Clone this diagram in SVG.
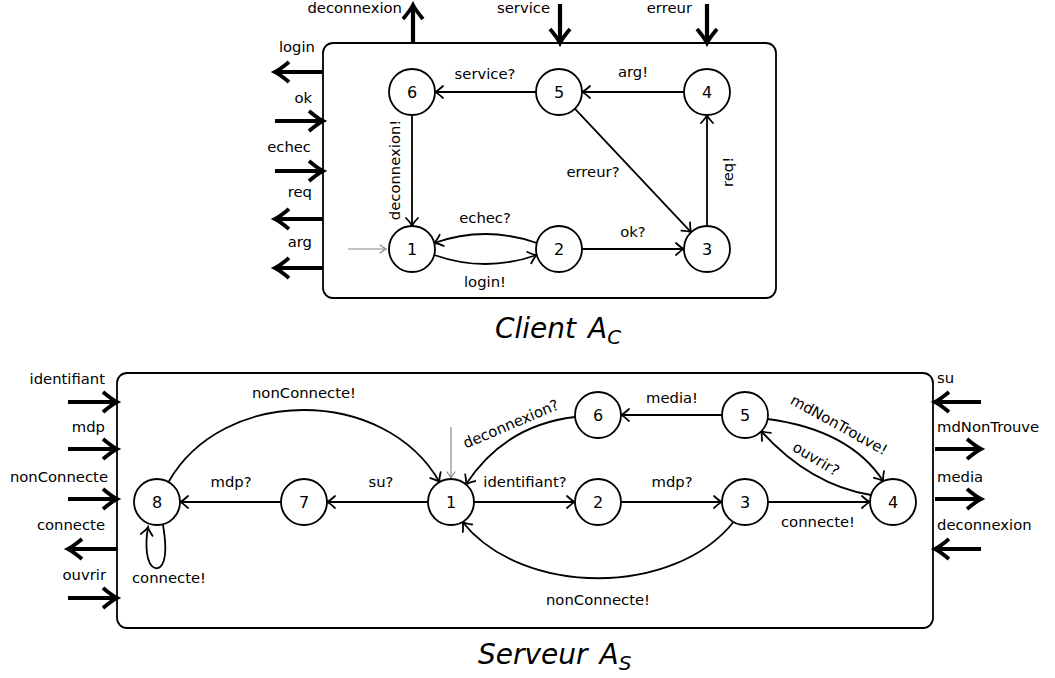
<svg xmlns="http://www.w3.org/2000/svg" width="1055" height="678" viewBox="0 0 1055 678">
<style>
text{font-family:"DejaVu Sans","Liberation Sans",sans-serif;font-size:14.8px;fill:#000}
.m{text-anchor:middle}
.e{text-anchor:end}
.n{font-size:16px;text-anchor:middle}
.t{font-size:28px;font-style:italic}
.st{fill:#fff;stroke:#000;stroke-width:1.8}
.box{fill:none;stroke:#000;stroke-width:1.8}
.ed{fill:none;stroke:#000;stroke-width:1.8;marker-end:url(#a)}
.in{fill:none;stroke:#888;stroke-width:1.2;marker-end:url(#g)}
.th{fill:none;stroke:#000;stroke-width:4.2;marker-end:url(#T)}
</style>
<defs>
<marker id="a" markerUnits="userSpaceOnUse" viewBox="-12 -12 24 24" markerWidth="24" markerHeight="24" refX="0" refY="0" orient="auto" overflow="visible"><path d="M-8,-6 Q-3,-1.2 0,0 Q-3,1.2 -8,6" fill="none" stroke="#000" stroke-width="1.8" stroke-linecap="round"/></marker>
<marker id="g" markerUnits="userSpaceOnUse" viewBox="-10 -10 20 20" markerWidth="20" markerHeight="20" refX="0" refY="0" orient="auto" overflow="visible"><path d="M-6,-4 Q-2,-1 0,0 Q-2,1 -6,4" fill="none" stroke="#888" stroke-width="1.2" stroke-linecap="round"/></marker>
<marker id="T" markerUnits="userSpaceOnUse" viewBox="-20 -20 40 40" markerWidth="40" markerHeight="40" refX="-4" refY="0" orient="auto" overflow="visible"><path d="M-14,-10 Q-5,-2.5 0,0 Q-5,2.5 -14,10" fill="none" stroke="#000" stroke-width="3.8"/></marker>
</defs>

<!-- ===== CLIENT ===== -->
<g id="client-box"><rect class="box" x="323" y="43" width="453" height="255" rx="10"/></g>
<g id="client-ports">
<path class="th" d="M413,43 V9"/><text class="e" x="402" y="13">deconnexion</text>
<path class="th" d="M560,4 V39"/><text class="e" x="550" y="13">service</text>
<path class="th" d="M707,4 V39"/><text class="e" x="692" y="13">erreur</text>
<path class="th" d="M323,72 H279"/><text class="e" x="315" y="52">login</text>
<path class="th" d="M275,121 H319"/><text class="e" x="312" y="103">ok</text>
<path class="th" d="M275,171 H319"/><text class="e" x="311" y="152">echec</text>
<path class="th" d="M323,219 H279"/><text class="e" x="312" y="197">req</text>
<path class="th" d="M323,268 H279"/><text class="e" x="312" y="247">arg</text>
</g>
<g id="client-edges">
<path class="in" d="M348,249 H386"/>
<path class="ed" d="M412,115 V226"/>
<path class="ed" d="M684,92 H582"/>
<path class="ed" d="M536,92 H435"/>
<path class="ed" d="M707,226 V115"/>
<path class="ed" d="M582,249 H684"/>
<path class="ed" d="M574.8,108.7 L691.2,232.3"/>
<path class="ed" d="M536.8,243 Q485.5,225 434.2,243"/>
<path class="ed" d="M434.2,255 Q485.5,273 536.8,255"/>
</g>
<g id="client-labels">
<text class="m" x="485" y="79">service?</text>
<text class="m" x="633" y="77">arg!</text>
<text class="m" transform="translate(395,170) rotate(-90)" x="0" y="5">deconnexion!</text>
<text class="m" x="593" y="177">erreur?</text>
<text class="m" transform="translate(728,172) rotate(-90)" x="0" y="5">req!</text>
<text class="m" x="485" y="223">echec?</text>
<text class="m" x="485" y="287">login!</text>
<text class="m" x="633" y="237">ok?</text>
</g>
<g id="c1"><circle class="st" cx="412" cy="249" r="23"/><text class="n" x="412" y="255">1</text></g>
<g id="c2"><circle class="st" cx="559" cy="249" r="23"/><text class="n" x="559" y="255">2</text></g>
<g id="c3"><circle class="st" cx="707" cy="249" r="23"/><text class="n" x="707" y="255">3</text></g>
<g id="c4"><circle class="st" cx="707" cy="92" r="23"/><text class="n" x="707" y="98">4</text></g>
<g id="c5"><circle class="st" cx="559" cy="92" r="23"/><text class="n" x="559" y="98">5</text></g>
<g id="c6"><circle class="st" cx="412" cy="92" r="23"/><text class="n" x="412" y="98">6</text></g>
<g id="client-title"><text class="t" x="495" y="338">Client <tspan dx="3">A</tspan><tspan font-size="20" dy="6">C</tspan></text></g>

<!-- ===== SERVEUR ===== -->
<g id="server-box"><rect class="box" x="117" y="373" width="816" height="255" rx="10"/></g>
<g id="server-ports">
<path class="th" d="M68,402 H113"/><text class="e" x="105" y="384">identifiant</text>
<path class="th" d="M68,449 H113"/><text class="e" x="105" y="432">mdp</text>
<path class="th" d="M68,499 H113"/><text class="e" x="108" y="482">nonConnecte</text>
<path class="th" d="M117,549 H72"/><text class="e" x="105" y="530">connecte</text>
<path class="th" d="M68,598 H113"/><text class="e" x="106" y="580">ouvrir</text>
<path class="th" d="M981,402 H939"/><text x="937" y="383">su</text>
<path class="th" d="M935,449 H977"/><text x="937" y="432">mdNonTrouve</text>
<path class="th" d="M935,499 H977"/><text x="937" y="482">media</text>
<path class="th" d="M981,549 H939"/><text x="937" y="530">deconnexion</text>
</g>
<g id="server-edges">
<path class="in" d="M451,427 V478"/>
<path class="ed" d="M428,502 H327"/>
<path class="ed" d="M281,502 H180"/>
<path class="ed" d="M474,502 H575"/>
<path class="ed" d="M621,502 H722"/>
<path class="ed" d="M768,502 H870"/>
<path class="ed" d="M722,415 H621"/>
<path class="ed" d="M168.5,482 C223,386 384.5,386 439.5,482"/>
<path class="ed" d="M733.5,522 C673.5,597 522.5,597 462.5,522"/>
<path class="ed" d="M575,417 Q505,425 465.8,484.4"/>
<path class="ed" d="M767.6,419 Q850,430 883.3,481.2"/>
<path class="ed" d="M871,495 Q810,485 761,431"/>
<path class="ed" d="M163,525 C169,560 162,570 155,568 C146,565 145,545 148,527"/>
</g>
<g id="server-labels">
<text class="m" x="304" y="398">nonConnecte!</text>
<text class="m" x="231" y="487">mdp?</text>
<text class="m" x="381" y="487">su?</text>
<text class="m" x="169" y="583">connecte!</text>
<text class="m" x="525" y="487">identifiant?</text>
<text class="m" x="672" y="487">mdp?</text>
<text class="m" x="818" y="527">connecte!</text>
<text class="m" x="598" y="605">nonConnecte!</text>
<text class="m" x="672" y="403">media!</text>
<text class="m" transform="translate(511,424) rotate(-23)" x="0" y="5">deconnexion?</text>
<text class="m" transform="translate(839,425) rotate(29)" x="0" y="5">mdNonTrouve!</text>
<text class="m" transform="translate(816,459) rotate(31)" x="0" y="5">ouvrir?</text>
</g>
<g id="s1"><circle class="st" cx="451" cy="502" r="23"/><text class="n" x="451" y="508">1</text></g>
<g id="s2"><circle class="st" cx="598" cy="502" r="23"/><text class="n" x="598" y="508">2</text></g>
<g id="s3"><circle class="st" cx="745" cy="502" r="23"/><text class="n" x="745" y="508">3</text></g>
<g id="s4"><circle class="st" cx="893" cy="502" r="23"/><text class="n" x="893" y="508">4</text></g>
<g id="s5"><circle class="st" cx="745" cy="415" r="23"/><text class="n" x="745" y="421">5</text></g>
<g id="s6"><circle class="st" cx="598" cy="415" r="23"/><text class="n" x="598" y="421">6</text></g>
<g id="s7"><circle class="st" cx="304" cy="502" r="23"/><text class="n" x="304" y="508">7</text></g>
<g id="s8"><circle class="st" cx="157" cy="502" r="23"/><text class="n" x="157" y="508">8</text></g>
<g id="server-title"><text class="t" x="478" y="664">Serveur <tspan dx="3">A</tspan><tspan font-size="20" dy="6">S</tspan></text></g>
</svg>
